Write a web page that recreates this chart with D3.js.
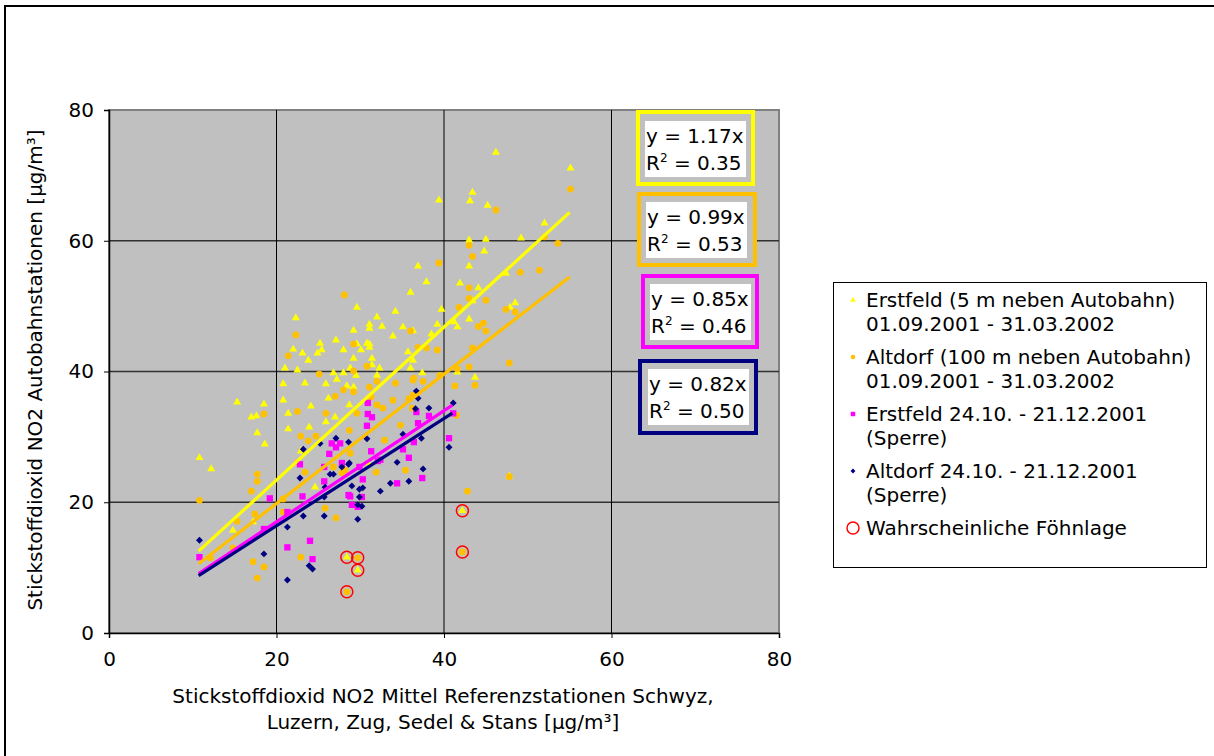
<!DOCTYPE html>
<html>
<head>
<meta charset="utf-8">
<script src="https://cdn.jsdelivr.net/npm/d3@7"></script>
<style>
  body { margin: 0; background: #fff; }
  text { font-family: "DejaVu Sans", Verdana, sans-serif; font-size: 20px; fill: #000; }
</style>
</head>
<body>
<svg id="chart" width="1214" height="756"></svg>
<script>
// Erstfeld (5 m neben Autobahn) 01.09.2001 - 31.03.2002  [x, y]
var erstfeld = [
  [46.2,73.5],[55.1,71.1],[43.4,67.4],[43.1,66.1],[39.4,66.2],[45.2,65.4],[52.0,62.7],[49.2,60.4],
  [43.0,60.1],[45.0,60.2],[44.8,58.4],[43.0,56.1],[36.9,56.1],[37.9,53.7],[36.0,52.1],[41.9,53.5],
  [44.1,52.8],[47.4,55.0],[43.4,50.8],[48.5,50.5],[47.9,49.8],[29.6,49.8],[34.2,49.2],[32.0,48.3],
  [39.7,49.5],[43.0,48.0],[31.1,47.2],[31.1,46.6],[32.6,46.9],[29.2,46.3],[35.1,46.8],[36.3,46.2],
  [39.2,47.2],[41.6,46.8],[41.2,47.6],[33.9,45.4],[38.5,45.7],[29.6,44.2],[31.1,44.2],[31.1,43.7],
  [28.0,43.3],[30.1,43.3],[35.7,43.0],[36.3,41.7],[29.2,42.0],[31.4,42.0],[31.4,41.0],[28.8,40.5],
  [32.3,40.5],[36.0,40.5],[37.4,39.8],[41.6,39.9],[43.7,39.1],[32.0,39.4],[29.5,39.4],[28.0,39.8],
  [22.3,48.2],[22.0,43.4],[23.1,42.8],[23.8,41.7],[25.2,44.3],[24.9,42.8],[25.4,43.3],[21.0,40.5],
  [22.5,40.2],[20.8,38.1],[23.4,38.2],[25.9,38.1],[15.3,35.3],[18.5,35.0],[20.8,35.6],[26.2,35.9],
  [24.1,34.7],[21.4,33.6],[17.0,33.0],[17.6,33.2],[27.1,44.8],[30.8,44.3],[26.8,39.8],[27.2,38.8],
  [28.4,37.8],[29.2,37.6],[28.7,34.9],[27.0,33.0],[17.7,30.6],[18.6,28.9],[10.8,26.8],[12.2,25.1],
  [21.4,31.2],[23.9,31.5],[25.9,32.3],[14.8,15.7],[17.2,17.0],[24.6,22.3],[22.9,27.8],[30.9,26.0],
  [47.8,24.0],[42.2,18.7],[28.4,11.6],[29.7,9.6]
];

// Altdorf (100 m neben Autobahn) 01.09.2001 - 31.03.2002
var altdorf = [
  [28.1,51.7],[22.3,45.6],[21.4,42.4],[25.1,39.6],[55.1,67.9],[46.2,64.7],[52.0,60.6],[53.6,59.6],
  [43.0,59.3],[43.4,57.6],[39.4,56.6],[49.1,55.2],[51.4,55.5],[43.0,52.8],[43.0,51.2],[45.0,50.9],
  [41.8,49.8],[47.4,49.5],[48.5,49.1],[44.7,47.4],[44.1,46.9],[45.0,46.2],[36.0,46.2],[29.2,44.2],
  [36.9,43.7],[37.9,43.6],[39.2,43.3],[43.4,43.6],[30.8,40.8],[29.2,40.1],[43.0,40.7],[41.6,40.4],
  [47.8,41.3],[39.5,39.4],[36.4,39.0],[34.2,38.2],[36.3,38.7],[37.5,38.5],[41.3,37.8],[27.0,36.2],
  [28.0,37.2],[31.1,37.6],[32.0,38.5],[29.2,36.9],[33.9,35.6],[35.8,35.8],[31.3,36.1],[32.0,34.9],
  [32.7,34.4],[25.9,33.6],[29.6,33.6],[36.2,34.4],[22.5,33.9],[18.5,33.5],[17.7,24.3],[17.7,23.2],
  [17.0,21.7],[10.8,20.3],[17.4,18.2],[15.3,17.1],[14.8,13.0],[12.1,11.5],[17.2,10.9],[18.5,10.1],
  [17.7,8.4],[22.9,30.1],[23.8,29.4],[24.7,30.1],[22.5,26.1],[23.4,24.6],[20.8,20.5],[20.8,18.5],
  [25.8,19.1],[27.1,17.6],[22.9,11.6],[26.8,25.4],[28.2,24.9],[28.7,31.0],[28.8,27.5],[27.8,24.5],
  [32.9,29.5],[31.9,24.6],[35.4,24.9],[34.8,31.8],[42.8,21.7],[43.7,37.9],[41.5,33.3],[47.8,23.9],
  [36.3,36.4],[42.2,12.4],[29.7,11.5],[28.4,6.3]
];

// Erstfeld 24.10. - 21.12.2001 (Sperre)
var erstfeldSperre = [
  [10.8,11.6],[19.2,20.6],[21.3,13.1],[24.0,14.1],[24.3,11.3],[23.1,20.9],[21.3,18.5],[18.5,15.9],
  [22.8,25.8],[26.3,27.4],[25.7,23.2],[26.6,29.0],[27.6,29.0],[27.1,28.4],[25.7,25.4],[27.8,26.0],
  [28.6,21.1],[30.9,33.5],[31.4,33.0],[30.8,31.7],[31.3,27.8],[36.9,32.1],[38.2,33.2],[36.4,29.2],
  [35.1,28.1],[32.4,26.5],[35.8,26.8],[29.9,25.4],[30.3,23.5],[37.4,23.7],[34.4,22.9],[30.2,20.8],
  [28.8,20.9],[29.0,19.6],[29.7,19.3],[40.6,29.8],[41.1,33.6],[30.9,35.2],[36.7,33.8],[32.1,26.3]
];

// Altdorf 24.10. - 21.12.2001 (Sperre)
var altdorfSperre = [
  [10.8,14.2],[18.5,12.1],[21.3,8.1],[21.3,16.2],[23.2,17.9],[25.7,17.9],[23.9,10.3],[24.3,9.8],
  [22.8,23.7],[23.2,28.1],[25.2,29.0],[27.1,29.8],[26.4,24.3],[26.8,24.3],[27.8,25.4],[28.6,25.8],
  [28.6,29.2],[25.7,20.8],[30.8,29.7],[35.1,30.4],[37.3,29.8],[41.1,35.2],[40.6,28.4],[34.4,26.1],
  [37.5,25.1],[28.7,26.0],[25.8,22.3],[33.6,22.9],[35.8,23.2],[32.4,21.7],[29.0,22.5],[29.9,22.0],
  [30.3,22.2],[29.9,20.8],[29.7,19.6],[30.2,19.4],[29.7,17.4],[36.7,37.0],[36.9,35.9],[36.6,34.3],
  [38.2,34.4]
];

// Wahrscheinliche Föhnlage
var foehn = [[42.2,18.7],[42.2,12.4],[28.4,11.6],[29.7,11.5],[29.7,9.6],[28.4,6.3]];

// trendlines y = a*x (through origin)
var slopes = [1.17, 0.99, 0.85, 0.82];
var r2 = ["0.35", "0.53", "0.46", "0.50"];
var trendFrom = [10.7, 10.7, 10.7, 10.7];
var trendTo = [55, 55, 41, 41];

var legendLabels = [
  ["Erstfeld (5 m neben Autobahn)", "01.09.2001 - 31.03.2002"],
  ["Altdorf (100 m neben Autobahn)", "01.09.2001 - 31.03.2002"],
  ["Erstfeld 24.10. - 21.12.2001", "(Sperre)"],
  ["Altdorf 24.10. - 21.12.2001", "(Sperre)"],
  ["Wahrscheinliche Föhnlage"]
];
var ticks = [0, 20, 40, 60, 80];

var colors = ["#FFFF00", "#FFC000", "#FF00FF", "#000080"];

var svg = d3.select("#chart");

// outer frame of the chart object
svg.append("path").attr("d", "M5,756V6H1214").attr("fill", "none").attr("stroke", "#000").attr("stroke-width", 2);

var x = d3.scaleLinear().domain([0, 80]).range([109, 779]);
var y = d3.scaleLinear().domain([0, 80]).range([633, 110]);

// plot area
svg.append("rect").attr("x", x(0)).attr("y", y(80)).attr("width", x(80) - x(0)).attr("height", y(0) - y(80))
  .attr("fill", "#C0C0C0").attr("stroke", "#808080").attr("stroke-width", 2);

// grid
svg.append("g").selectAll("line").data(ticks.slice(1, 4)).join("line")
  .attr("x1", x(0)).attr("x2", x(80)).attr("y1", d => y(d)).attr("y2", d => y(d))
  .attr("stroke", "#303030").attr("stroke-width", 1.5);
svg.append("g").selectAll("line").data(ticks.slice(1, 4)).join("line")
  .attr("y1", y(0)).attr("y2", y(80)).attr("x1", d => x(d)).attr("x2", d => x(d))
  .attr("stroke", "#000").attr("stroke-width", 1);

// axes
var yAxis = svg.append("g").attr("transform", "translate(" + x(0) + ",0)")
  .call(d3.axisLeft(y).tickValues(ticks).tickSize(5).tickPadding(10));
var xAxis = svg.append("g").attr("transform", "translate(0," + y(0) + ")")
  .call(d3.axisBottom(x).tickValues(ticks).tickSize(5).tickPadding(14));
[yAxis, xAxis].forEach(function(a) {
  a.select(".domain").attr("stroke", "#000").attr("stroke-width", 1.5);
  a.selectAll(".tick line").attr("stroke", "#000");
  a.selectAll("text").attr("font-size", null).attr("font-family", null).attr("fill", "#000");
});

// axis titles
svg.append("text").attr("transform", "translate(42,370) rotate(-90)").attr("text-anchor", "middle")
  .text("Stickstoffdioxid NO2 Autobahnstationen [µg/m³]");
svg.append("text").attr("x", 443).attr("y", 703).attr("text-anchor", "middle")
  .text("Stickstoffdioxid NO2 Mittel Referenzstationen Schwyz,");
svg.append("text").attr("x", 443).attr("y", 729).attr("text-anchor", "middle")
  .text("Luzern, Zug, Sedel & Stans [µg/m³]");

// markers
var plot = svg.append("g");
function drawSeries(data, symbol, size, color, rot) {
  plot.append("g").selectAll("path").data(data).join("path")
    .attr("transform", d => "translate(" + x(d[0]) + "," + y(d[1]) + ")" + (rot ? " rotate(45)" : ""))
    .attr("d", d3.symbol().type(symbol).size(size))
    .attr("fill", color);
}
drawSeries(erstfeld, d3.symbolTriangle, 28, colors[0]);
plot.append("g").selectAll("circle").data(altdorf).join("circle")
  .attr("cx", d => x(d[0])).attr("cy", d => y(d[1])).attr("r", 3.4)
  .attr("fill", colors[1]);
drawSeries(erstfeldSperre, d3.symbolSquare, 40, colors[2]);
// Excel diamond = square turned by 45 deg
drawSeries(altdorfSperre, d3.symbolSquare, 24, colors[3], true);

plot.append("g").selectAll("circle").data(foehn).join("circle")
  .attr("cx", d => x(d[0])).attr("cy", d => y(d[1])).attr("r", 6)
  .attr("fill", "none").attr("stroke", "#FF0000").attr("stroke-width", 1.5);

// trendlines
slopes.forEach(function(a, i) {
  svg.append("line")
    .attr("x1", x(trendFrom[i])).attr("y1", y(a * trendFrom[i]))
    .attr("x2", x(trendTo[i])).attr("y2", y(a * trendTo[i]))
    .attr("stroke", colors[i]).attr("stroke-width", 3.2);
});

// equation boxes
var boxes = [
  {x: 638, y: 112, w: 115, h: 72, tx: 645, ty: 121},
  {x: 639, y: 194, w: 116, h: 71, tx: 646, ty: 202},
  {x: 643, y: 276, w: 114, h: 71, tx: 650, ty: 284},
  {x: 640, y: 361, w: 116, h: 72, tx: 648, ty: 369}
];
boxes.forEach(function(b, i) {
  var g = svg.append("g");
  g.append("rect").attr("x", b.x).attr("y", b.y).attr("width", b.w).attr("height", b.h)
    .attr("fill", "#C0C0C0").attr("stroke", colors[i]).attr("stroke-width", 4);
  g.append("rect").attr("x", b.tx).attr("y", b.ty).attr("width", 101).attr("height", 56).attr("fill", "#fff");
  g.append("text").attr("x", b.tx + 1).attr("y", b.ty + 22).text("y = " + slopes[i] + "x");
  var t = g.append("text").attr("x", b.tx + 1).attr("y", b.ty + 49);
  t.append("tspan").text("R");
  t.append("tspan").attr("dy", -8).attr("font-size", 12).text("2");
  t.append("tspan").attr("dy", 8).text(" = " + r2[i]);
});

// legend
var lg = svg.append("g");
lg.append("rect").attr("x", 833.5).attr("y", 282.5).attr("width", 373).attr("height", 285)
  .attr("fill", "#fff").attr("stroke", "#000").attr("stroke-width", 1);
var rowY = [300, 357, 414, 471, 528];
var legSymbols = [d3.symbolTriangle, d3.symbolCircle, d3.symbolSquare, d3.symbolSquare];
var legSizes = [14, 16, 20, 12];
legendLabels.forEach(function(lines, i) {
  if (i < 4) {
    lg.append("path").attr("transform", "translate(853," + rowY[i] + ")" + (i == 3 ? " rotate(45)" : ""))
      .attr("d", d3.symbol().type(legSymbols[i]).size(legSizes[i])).attr("fill", colors[i]);
  } else {
    lg.append("circle").attr("cx", 853).attr("cy", rowY[i]).attr("r", 6)
      .attr("fill", "none").attr("stroke", "#FF0000").attr("stroke-width", 1.5);
  }
  lines.forEach(function(l, j) {
    lg.append("text").attr("x", 866).attr("y", rowY[i] + 7 + j * 24).text(l);
  });
});
</script>
</body>
</html>
